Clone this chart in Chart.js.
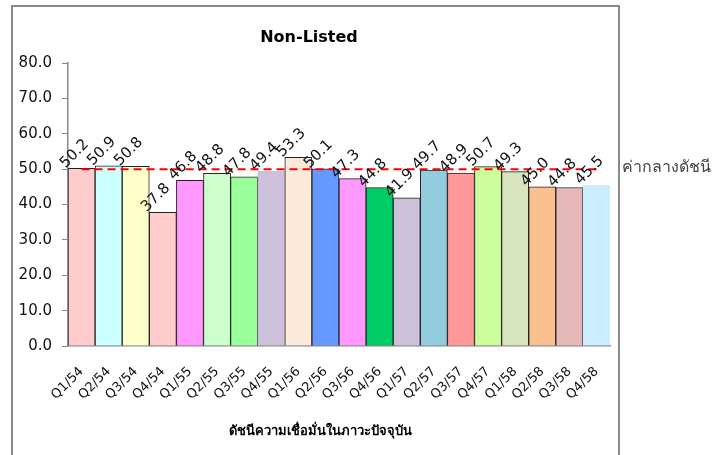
<!DOCTYPE html>
<html>
<head>
<meta charset="utf-8">
<script src="https://cdn.jsdelivr.net/npm/chart.js@4"></script>
<style>
  html, body { margin: 0; padding: 0; background: #fff; }
</style>
</head>
<body>
<canvas id="c" width="721" height="455"></canvas>
<script>
// ข้อมูลที่อ่านจากภาพ
const quarters = ['Q1/54', 'Q2/54', 'Q3/54', 'Q4/54', 'Q1/55', 'Q2/55', 'Q3/55', 'Q4/55', 'Q1/56', 'Q2/56',
  'Q3/56', 'Q4/56', 'Q1/57', 'Q2/57', 'Q3/57', 'Q4/57', 'Q1/58', 'Q2/58', 'Q3/58', 'Q4/58'];
const indexValues = [50.2, 50.9, 50.8, 37.8, 46.8, 48.8, 47.8, 49.4, 53.3, 50.1,
  47.3, 44.8, 41.9, 49.7, 48.9, 50.7, 49.3, 45.0, 44.8, 45.5];
const midValues = [50, 50, 50, 50, 50, 50, 50, 50, 50, 50, 50, 50, 50, 50, 50, 50, 50, 50, 50, 50];
const yTicks = [0, 10, 20, 30, 40, 50, 60, 70, 80];

const barColors = ['#FFCCCC', '#CCFFFF', '#FFFFCC', '#FFCCCC', '#FF99FF', '#CCFFCC', '#99FF99', '#CCC0DA', '#FDE9D9', '#6699FF',
  '#FF99FF', '#00CC66', '#CCC0DA', '#93CDDD', '#FF9999', '#CCFF99', '#D7E4BD', '#FAC090', '#E6B9B8', '#CCECFF'];
const barBorders = barColors.map((c, i) => (i === 7 || i === 19) ? c : '#222');

const FONT = '"DejaVu Sans", Verdana, sans-serif';

// กรอบ, ป้ายค่าเอียง 45 องศา, ชื่อกราฟ, ชื่อแกน และคำอธิบายเส้นค่ากลาง
const decorPlugin = {
  id: 'decor',
  beforeDraw(chart) {
    const ctx = chart.ctx;
    ctx.save();
    ctx.strokeStyle = '#8a8a8a';
    ctx.lineWidth = 2;
    ctx.strokeRect(12, 6, 607, 470);
    ctx.restore();
  },
  afterDatasetsDraw(chart) {
    const ctx = chart.ctx;
    chart.getDatasetMeta(1).data.forEach((bar, i) => {
      ctx.save();
      ctx.translate(bar.x - 16, bar.y);
      ctx.rotate(-Math.PI / 4);
      ctx.font = '15px ' + FONT;
      ctx.fillStyle = '#111';
      ctx.textAlign = 'left';
      ctx.textBaseline = 'alphabetic';
      ctx.fillText(indexValues[i].toFixed(1), 0, 0);
      ctx.restore();
    });
  },
  afterDraw(chart) {
    const ctx = chart.ctx;
    ctx.save();
    ctx.fillStyle = '#000';
    ctx.textAlign = 'center';
    ctx.textBaseline = 'middle';
    ctx.font = 'bold 16px ' + FONT;
    ctx.fillText('Non-Listed', 309, 38);
    ctx.font = 'bold 13px ' + FONT;
    ctx.fillText('ดัชนีความเชื่อมั่นในภาวะปัจจุบัน', 320, 432);
    ctx.textAlign = 'left';
    ctx.fillStyle = '#444';
    ctx.font = '16px ' + FONT;
    ctx.fillText(chart.data.datasets[0].label, 622, 168);
    ctx.restore();
  }
};

new Chart(document.getElementById('c'), {
  data: {
    labels: quarters,
    datasets: [
      {
        type: 'line',
        label: 'ค่ากลางดัชนี',
        data: midValues,
        borderColor: '#FF0000',
        borderWidth: 2,
        borderDash: [8, 5],
        pointRadius: 0,
        fill: false,
        order: 0
      },
      {
        type: 'bar',
        label: 'Non-Listed',
        data: indexValues,
        backgroundColor: barColors,
        borderColor: barBorders,
        borderWidth: 1,
        barPercentage: 1,
        categoryPercentage: 1,
        order: 1
      }
    ]
  },
  options: {
    responsive: false,
    animation: false,
    layout: { padding: { top: 63, right: 111, bottom: 0, left: 0 } },
    plugins: {
      legend: { display: false },
      title: { display: false },
      tooltip: { enabled: false }
    },
    scales: {
      x: {
        grid: { display: false },
        border: { color: '#888', width: 1.5 },
        ticks: {
          color: '#111',
          font: { family: FONT, size: 13 },
          minRotation: 45,
          maxRotation: 45,
          padding: 10,
          autoSkip: false
        },
        afterFit(scale) { scale.height = 109; }
      },
      y: {
        min: 0,
        max: 80,
        afterBuildTicks(scale) { scale.ticks = yTicks.map(v => ({ value: v })); },
        grid: { drawOnChartArea: false, drawTicks: true, tickLength: 6, color: '#888' },
        border: { color: '#888', width: 1.5 },
        ticks: {
          color: '#111',
          font: { family: FONT, size: 15 },
          padding: 10,
          callback: v => Number(v).toFixed(1)
        },
        afterFit(scale) { scale.width = 68; }
      }
    }
  },
  plugins: [decorPlugin]
});
</script>
</body>
</html>
